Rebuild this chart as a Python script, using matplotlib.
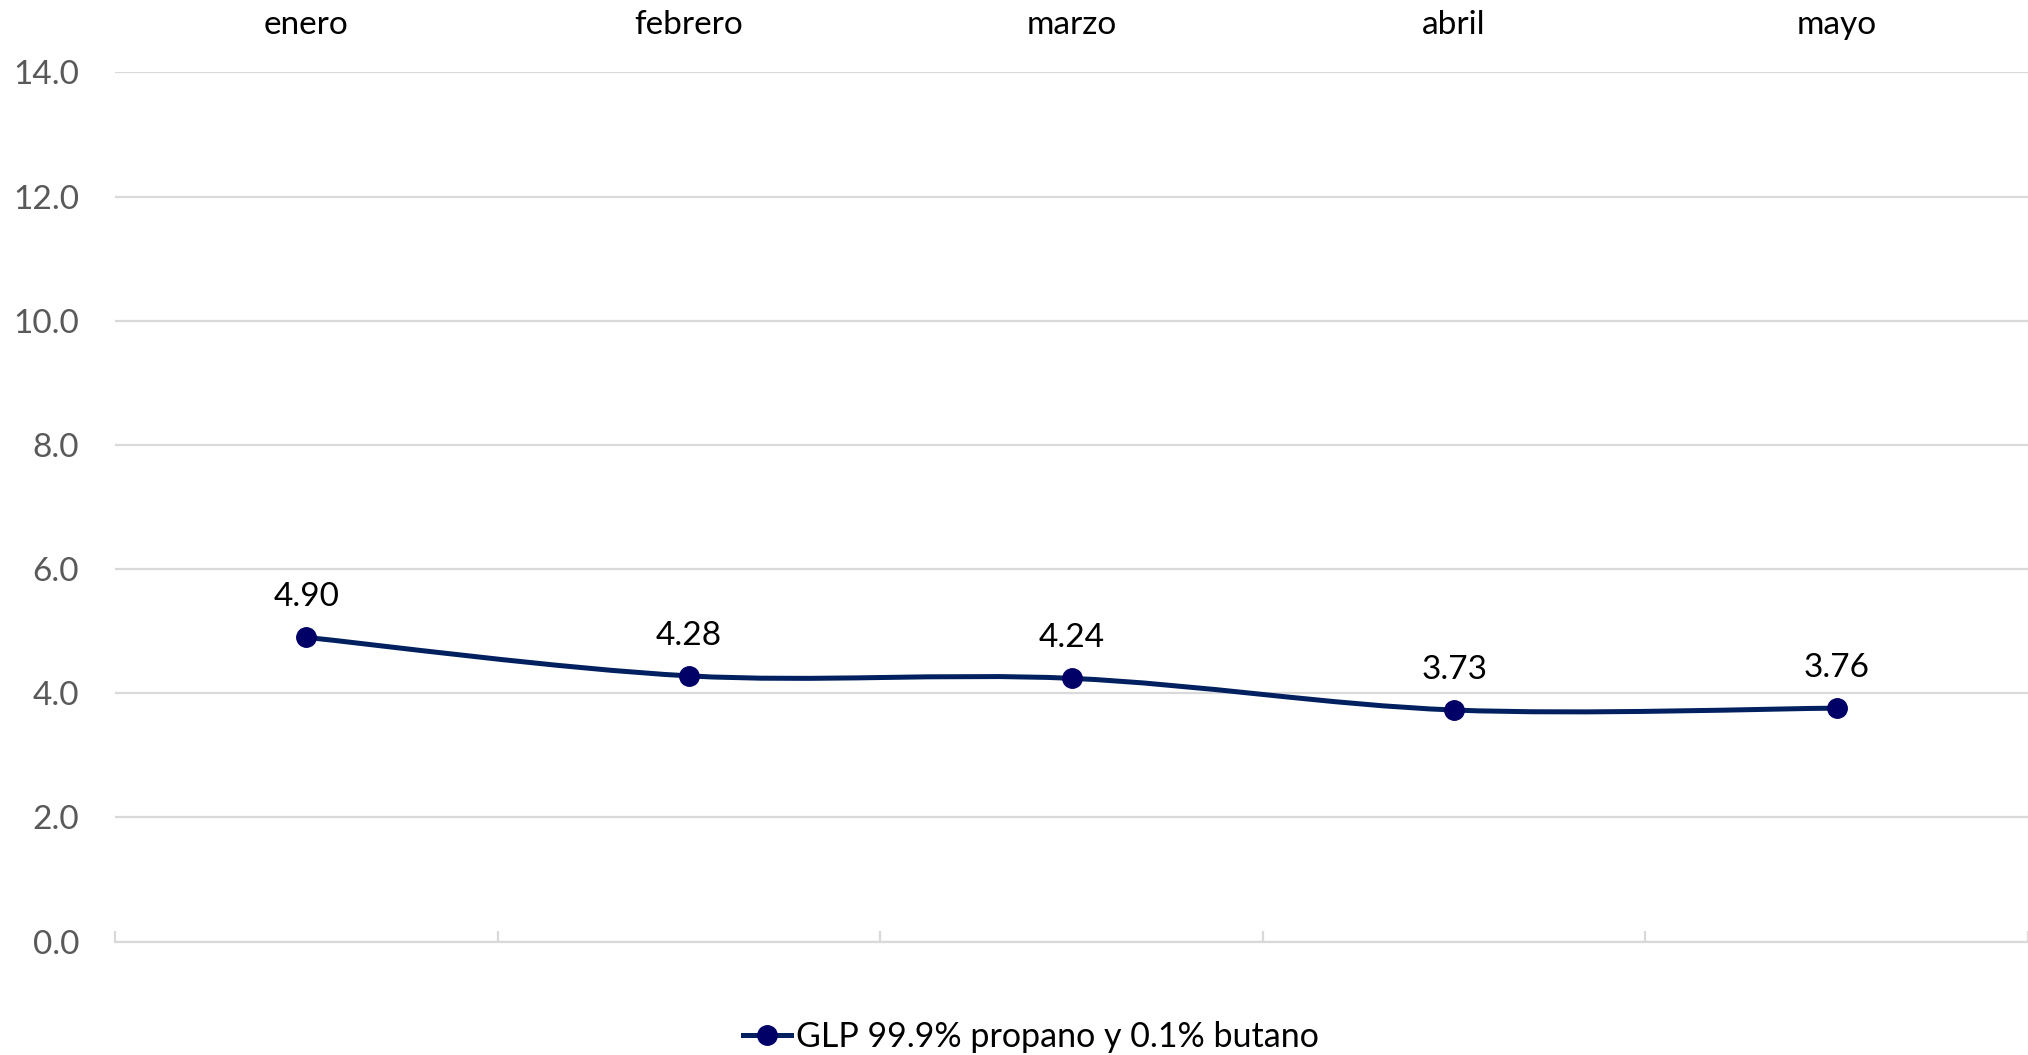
import matplotlib
matplotlib.use("Agg")
import matplotlib.pyplot as plt
from matplotlib.path import Path
from matplotlib.patches import PathPatch
from matplotlib.lines import Line2D
import numpy as np

categories = ["enero", "febrero", "marzo", "abril", "mayo"]
values = [4.90, 4.28, 4.24, 3.73, 3.76]
value_labels = ["4.90", "4.28", "4.24", "3.73", "3.76"]
series_name = "GLP 99.9% propano y 0.1% butano"
yticks = [0, 2, 4, 6, 8, 10, 12, 14]

plt.rcParams['font.family'] = ['Lato', 'DejaVu Sans']

W, H = 2028, 1055
fig = plt.figure(figsize=(W / 100, H / 100), dpi=100)
ax = fig.add_axes([115 / W, 1 - 941.6 / H, 1 - 115 / W, (941.6 - 72.4) / H])

x = np.arange(len(categories), dtype=float)
y = np.array(values, dtype=float)

# Smoothed line (Excel-like Catmull-Rom Bezier)
pts = np.column_stack([x, y])
verts = [tuple(pts[0])]
codes = [Path.MOVETO]
n = len(pts)
for i in range(n - 1):
    p0 = pts[i - 1] if i > 0 else pts[i]
    p1 = pts[i]
    p2 = pts[i + 1]
    p3 = pts[i + 2] if i + 2 < n else pts[i + 1]
    c1 = p1 + (p2 - p0) / 6.0
    c2 = p2 - (p3 - p1) / 6.0
    verts += [tuple(c1), tuple(c2), tuple(p2)]
    codes += [Path.CURVE4] * 3
line_color = "#002060"
marker_color = "#000066"
ax.add_patch(PathPatch(Path(verts, codes), facecolor="none", edgecolor=line_color,
                       lw=3.6, capstyle="round", joinstyle="round", zorder=3))
ax.plot(x, y, linestyle="none", marker="o", markersize=14, color=marker_color, zorder=4)

for xi, yi, lab in zip(x, y, value_labels):
    ax.annotate(lab, (xi, yi), xytext=(0, 29), textcoords="offset points",
                ha="center", va="center", fontsize=24, color="#000000")

ax.set_xlim(-0.5, len(categories) - 0.5)
ax.set_ylim(0, 14)
ax.set_yticks(yticks)
ax.set_yticklabels([f"{v:.1f}" for v in yticks])
ax.tick_params(axis="y", length=0, labelsize=24, labelcolor="#595959", pad=26)
ax.yaxis.grid(True, color="#d9d9d9", lw=1.6)
ax.set_axisbelow(True)

ax.xaxis.tick_top()
ax.set_xticks(x)
ax.set_xticklabels(categories)
ax.tick_params(axis="x", which="major", length=0, labelsize=24, labelcolor="#000000", pad=23)
ax.set_xticks(np.arange(len(categories) + 1) - 0.5, minor=True)
ax.tick_params(axis="x", which="minor", bottom=True, top=False, direction="in",
               length=8, width=1.6, color="#d9d9d9")

for s in ["top", "left", "right"]:
    ax.spines[s].set_visible(False)
ax.spines["bottom"].set_color("#d9d9d9")
ax.spines["bottom"].set_linewidth(1.6)

handle = Line2D([], [], color=line_color, lw=3.6, marker="o", markersize=14,
                markerfacecolor=marker_color, markeredgecolor=marker_color)
fig.legend([handle], [series_name], loc="center", bbox_to_anchor=(0.5085, 1 - 1037 / H),
           frameon=False, fontsize=24.5, handlelength=1.4, handletextpad=0.15)

fig.savefig("out.png", dpi=100, facecolor="white")
